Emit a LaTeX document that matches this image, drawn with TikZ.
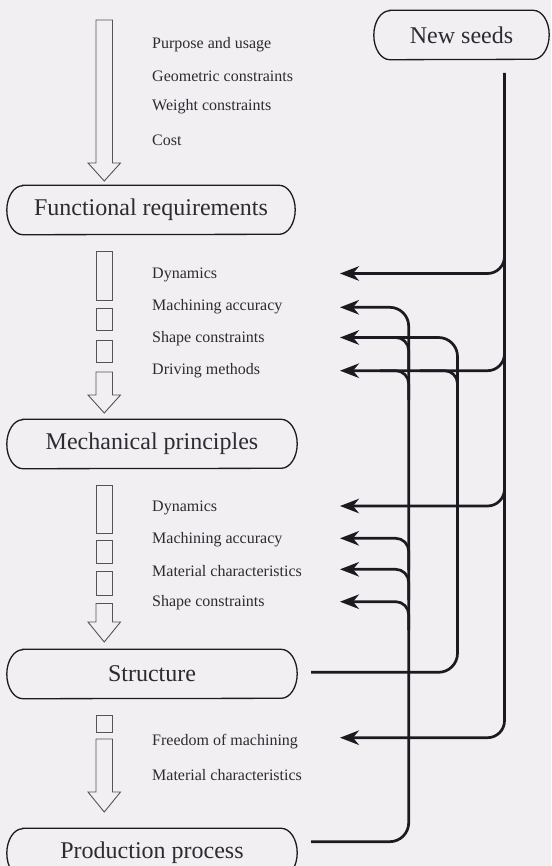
\documentclass[tikz,border=0pt]{standalone}
\usepackage{fontspec}
\setmainfont{Liberation Serif}
\usetikzlibrary{arrows.meta}
\definecolor{paper}{RGB}{241,239,242}
\definecolor{ink}{RGB}{28,26,32}
\definecolor{txt}{RGB}{45,42,50}
\newcommand\mystadium[1]{%
  \draw[boxline] ([xshift=16pt]#1.north west) -- ([xshift=-16pt]#1.north east)
    arc[start angle=90,end angle=-90,x radius=16pt,y radius=24.5pt]
    -- ([xshift=16pt]#1.south west)
    arc[start angle=270,end angle=90,x radius=16pt,y radius=24.5pt] -- cycle;}
\begin{document}
\begin{tikzpicture}[x=1pt,y=1pt,
  lab/.style={anchor=west, inner sep=0pt, font=\fontsize{16}{19}\selectfont, text=txt},
  stage/.style={inner sep=0pt, font=\fontsize{24}{28}\selectfont, text=txt, minimum height=49pt},
  boxline/.style={draw=ink, line width=1.3pt},
  hollow/.style={draw=ink!75, line width=0.9pt, line join=miter},
  fb/.style={draw=ink, line width=2.7pt},
  tip/.style={-{Stealth[length=19pt,width=14.5pt,inset=6pt]}},
]
\fill[paper] (0,0) rectangle (551,-866);
\useasboundingbox (0,0) rectangle (551,-866);

% stage boxes
\node[stage, minimum width=175pt] (seeds) at (461.5,-35) {New seeds};
\node[stage, minimum width=288pt] (fr) at (151,-210) {Functional requirements};
\node[stage, minimum width=290pt] (mp) at (152,-444) {Mechanical principles};
\node[stage, minimum width=290pt] (st) at (152,-674) {Structure};
\node[stage, minimum width=290pt] (pp) at (152,-853) {Production process};
\mystadium{seeds}
\mystadium{fr}
\mystadium{mp}
\mystadium{st}
\mystadium{pp}

% labels
\node[lab] (l1a) at (152,-44.5) {Purpose and usage};
\node[lab] (l1b) at (152,-76.5) {Geometric constraints};
\node[lab] (l1c) at (152,-107) {Weight constraints};
\node[lab] (l1d) at (152,-140.5) {Cost};
\node[lab] (l2a) at (152,-275) {Dynamics};
\node[lab] (l2b) at (152,-307) {Machining accuracy};
\node[lab] (l2c) at (152,-339) {Shape constraints};
\node[lab] (l2d) at (152,-371) {Driving methods};
\node[lab] (l3a) at (152,-507.5) {Dynamics};
\node[lab] (l3b) at (152,-539.5) {Machining accuracy};
\node[lab] (l3c) at (152,-571) {Material characteristics};
\node[lab] (l3d) at (152,-603) {Shape constraints};
\node[lab] (l4a) at (152,-742) {Freedom of machining};
\node[lab] (l4b) at (152,-775) {Material characteristics};

% hollow flow arrows
\draw[hollow] (96,-20) -- (112.5,-20) -- (112.5,-163) -- (120.5,-163) -- (104.25,-181) -- (88,-163) -- (96,-163) -- cycle;
\draw[hollow] (96,-251) rectangle (112.5,-300);
\draw[hollow] (96,-308.5) rectangle (112.5,-330);
\draw[hollow] (96,-340) rectangle (112.5,-362);
\draw[hollow] (96,-372) -- (112.5,-372) -- (112.5,-395) -- (120.5,-395) -- (104.25,-413) -- (88,-395) -- (96,-395) -- cycle;
\draw[hollow] (96,-485) rectangle (112.5,-533);
\draw[hollow] (96,-540) rectangle (112.5,-563.5);
\draw[hollow] (96,-571.5) rectangle (112.5,-595);
\draw[hollow] (96,-603.5) -- (112.5,-603.5) -- (112.5,-622) -- (120.5,-622) -- (104.25,-642) -- (88,-622) -- (96,-622) -- cycle;
\draw[hollow] (96,-715) rectangle (112.5,-732);
\draw[hollow] (96,-739) -- (112.5,-739) -- (112.5,-792) -- (120.5,-792) -- (104.25,-812) -- (88,-792) -- (96,-792) -- cycle;

% feedback connector ends
\coordinate (mtop) at (504.5,-73);
\coordinate (stout) at (311,-672.3);
\coordinate (ppout) at (311,-841.7);
\coordinate (t2a) at (340,-273.5);
\coordinate (t2b) at (340,-307.3);
\coordinate (t2c) at (340,-337.5);
\coordinate (t2d) at (340,-370.7);
\coordinate (t3a) at (340,-506);
\coordinate (t3b) at (340,-538.3);
\coordinate (t3c) at (340,-569.3);
\coordinate (t3d) at (340,-601.7);
\coordinate (t4a) at (340,-737.7);

% New seeds line
\draw[fb,tip,rounded corners=17pt] (mtop) |- (t4a);
\draw[fb,tip,rounded corners=17pt] (504.5,-230) |- (t2a);
\draw[fb,tip,rounded corners=17pt] (504.5,-330) |- (t2d);
\draw[fb,tip,rounded corners=17pt] (504.5,-470) |- (t3a);

% Production process line
\draw[fb,tip,rounded corners=19pt] (ppout) -- (408.7,-841.7) |- (t2b);
\draw[fb,rounded corners=13pt] (408.7,-370) |- (380,-337.5);
\draw[fb,rounded corners=13pt] (408.7,-400) |- (380,-370.7);
\draw[fb,tip,rounded corners=13pt] (408.7,-570) |- (t3b);
\draw[fb,tip,rounded corners=13pt] (408.7,-600) |- (t3c);
\draw[fb,tip,rounded corners=13pt] (408.7,-630) |- (t3d);

% Structure line
\draw[fb,tip,rounded corners=19pt] (stout) -- (457.5,-672.3) |- (t2c);
\draw[fb,rounded corners=13pt] (457.5,-400) |- (420,-370.7);
\end{tikzpicture}
\end{document}
